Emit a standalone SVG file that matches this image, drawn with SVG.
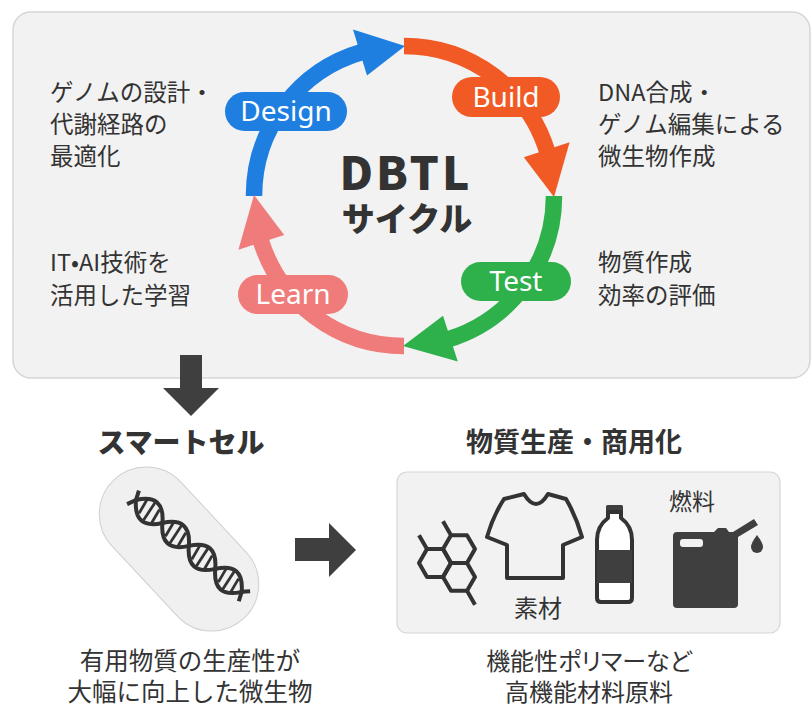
<svg xmlns="http://www.w3.org/2000/svg" width="811" height="708" viewBox="0 0 811 708">
  <defs>
    <style>
      .jp { font-family: "Noto Sans CJK JP", "Noto Sans", sans-serif; fill: #333333; }
      .body { font-size: 23.5px; }
      .head { font-size: 27px; font-weight: bold; }
      .pill-label { font-family: "Noto Sans", "Open Sans", sans-serif; font-size: 28px; fill: #ffffff; text-anchor: middle; }
      .ring { fill: none; stroke-width: 16.5; }
      .icon-line { fill: none; stroke: #333333; stroke-width: 4; stroke-linejoin: round; }
      .dark { fill: #3f3f3f; }
    </style>
  </defs>

  <rect width="811" height="708" fill="#ffffff"/>

  <!-- upper panel holding the cycle -->
  <g id="cycle-panel">
    <rect x="13" y="12" width="797" height="366" rx="18" fill="#f2f2f2" stroke="#d6d6d6" stroke-width="1.5"/>
  </g>

  <!-- ring segments and arrowheads -->
  <g id="connectors">
    <path class="ring" stroke="#1f7fe0" d="M254,196 A150,150 0 0 1 362.7,51.8"/>
    <polygon fill="#1f7fe0" points="405,46 353,29.5 367,75.5"/>

    <path class="ring" stroke="#f15a24" d="M404,46 A150,150 0 0 1 547.4,152.1"/>
    <polygon fill="#f15a24" points="554,197 569.6,142.2 523.8,157.2"/>

    <path class="ring" stroke="#2eb04b" d="M554,196 A150,150 0 0 1 447.9,339.4"/>
    <polygon fill="#2eb04b" points="403,346 457.8,361.6 443,315.8"/>

    <path class="ring" stroke="#f07b7b" d="M404,346 A150,150 0 0 1 260.6,239.9"/>
    <polygon fill="#f07b7b" points="254,195 238.4,249.8 284.2,235"/>

    <!-- arrow from the cycle down to the smart cell -->
    <polygon class="dark" points="180,355 202,355 202,388 219,388 191,416 163,388 180,388"/>
    <!-- arrow from the cell to production -->
    <polygon class="dark" points="295,538 329,538 329,523 356,550 329,577 329,561 295,561"/>
  </g>

  <g id="design">
    <rect x="225" y="92" width="122" height="39" rx="19.5" fill="#1f7fe0"/>
    <text class="pill-label" x="286" y="121">Design</text>
  </g>
  <g id="build">
    <rect x="452" y="77" width="108" height="40" rx="20" fill="#f15a24"/>
    <text class="pill-label" x="506" y="107">Build</text>
  </g>
  <g id="test">
    <rect x="461" y="262" width="110" height="39" rx="19.5" fill="#2eb04b"/>
    <text class="pill-label" x="516" y="291">Test</text>
  </g>
  <g id="learn">
    <rect x="238" y="275" width="110" height="39" rx="19.5" fill="#f07b7b"/>
    <text class="pill-label" x="293" y="304">Learn</text>
  </g>

  <g id="dbtl-title">
    <text class="jp" x="406" y="190" font-size="46" font-weight="900" letter-spacing="3" text-anchor="middle">DBTL</text>
    <text class="jp" x="407" y="231" font-size="33" font-weight="900" text-anchor="middle">サイクル</text>
  </g>

  <g id="design-note">
    <text class="jp body" x="50" y="101">ゲノムの設計・</text>
    <text class="jp body" x="50" y="133">代謝経路の</text>
    <text class="jp body" x="50" y="165">最適化</text>
  </g>
  <g id="learn-note">
    <text class="jp body" x="50" y="271">IT•AI技術を</text>
    <text class="jp body" x="50" y="304">活用した学習</text>
  </g>
  <g id="build-note">
    <text class="jp body" x="598" y="101">DNA合成・</text>
    <text class="jp body" x="598" y="133">ゲノム編集による</text>
    <text class="jp body" x="598" y="165">微生物作成</text>
  </g>
  <g id="test-note">
    <text class="jp body" x="598" y="271">物質作成</text>
    <text class="jp body" x="598" y="304">効率の評価</text>
  </g>

  <!-- smart cell -->
  <g id="smart-cell">
    <text class="jp" x="181" y="453" font-size="28" font-weight="900" text-anchor="middle">スマートセル</text>
    <rect x="84" y="502" width="190" height="94" rx="47" transform="rotate(47 179 549)" fill="#f0f0f0" stroke="#cfcfcf" stroke-width="1"/>
    <g transform="translate(136,500) rotate(41)">
      <path class="icon-line" stroke-width="4.5" d="M-4,-9 L0,0 Q17.5,24 35,0 T70,0 T105,0 T140,0 L144,9"/>
      <path class="icon-line" stroke-width="4.5" d="M-4,9 L0,0 Q17.5,-24 35,0 T70,0 T105,0 T140,0 L146,-6"/>
      <g stroke="#333333" stroke-width="2.8">
        <line x1="8" y1="-8" x2="11" y2="8"/><line x1="16" y1="-11" x2="19" y2="11"/><line x1="24" y1="-8" x2="27" y2="8"/>
        <line x1="43" y1="-8" x2="46" y2="8"/><line x1="51" y1="-11" x2="54" y2="11"/><line x1="59" y1="-8" x2="62" y2="8"/>
        <line x1="78" y1="-8" x2="81" y2="8"/><line x1="86" y1="-11" x2="89" y2="11"/><line x1="94" y1="-8" x2="97" y2="8"/>
        <line x1="113" y1="-8" x2="116" y2="8"/><line x1="121" y1="-11" x2="124" y2="11"/><line x1="129" y1="-8" x2="132" y2="8"/>
      </g>
    </g>
    <text class="jp" x="190" y="670" font-size="24.5" text-anchor="middle">有用物質の生産性が</text>
    <text class="jp" x="190" y="701" font-size="24.5" text-anchor="middle">大幅に向上した微生物</text>
  </g>

  <!-- products -->
  <g id="production">
    <text class="jp head" x="574" y="452" text-anchor="middle">物質生産・商用化</text>
    <rect x="397" y="472" width="383" height="161" rx="10" fill="#f2f2f2" stroke="#d6d6d6" stroke-width="1.2"/>

    <!-- molecule -->
    <g class="icon-line" stroke-width="3.6">
      <polygon points="451,563 443,576.9 427,576.9 419,563 427,549.1 443,549.1"/>
      <polygon points="475,549.1 467,563 451,563 443,549.1 451,535.2 467,535.2"/>
      <polygon points="475,576.9 467,590.8 451,590.8 443,576.9 451,563 467,563"/>
      <line x1="427" y1="549.1" x2="419" y2="535.2"/>
      <line x1="451" y1="535.2" x2="443" y2="521.3"/>
      <line x1="467" y1="590.8" x2="475" y2="604.7"/>
    </g>

    <!-- shirt -->
    <path class="icon-line" stroke-width="4.5" d="M524,494 Q536,514 548,494 L566,499 Q576,516 582,537 L563,545 L563,578 L507,578 L507,545 L487,537 Q493,516 504,499 Z"/>

    <!-- bottle -->
    <rect class="dark" x="606" y="505" width="17" height="8" rx="1.5"/>
    <path d="M608,512 L608,518 Q597,526 597,540 L597,598 Q597,602 601,602 L628,602 Q632,602 632,598 L632,540 Q632,526 621,518 L621,512 Z" fill="#ffffff" stroke="#333333" stroke-width="4" stroke-linejoin="round"/>
    <rect class="dark" x="597" y="550" width="35" height="33"/>

    <!-- fuel can -->
    <path class="dark" d="M677,532 L714,532 L718,528 L726,528 L729,532 L733,532 L754,519 L758,525 L738,537 L738,604 Q738,608 734,608 L677,608 Q673,608 673,604 L673,536 Q673,532 677,532 Z"/>
    <rect x="680" y="539" width="23" height="8" rx="3" fill="#f2f2f2"/>
    <path class="dark" d="M757,535 Q763,543 763,547 A6,6 0 0 1 751,547 Q751,543 757,535 Z"/>

    <text class="jp" x="538" y="617" font-size="24" text-anchor="middle">素材</text>
    <text class="jp" x="692" y="510" font-size="23" text-anchor="middle" fill="#444444">燃料</text>

    <text class="jp" x="589" y="670" font-size="24" text-anchor="middle" style="font-feature-settings: 'palt'">機能性ポリマーなど</text>
    <text class="jp" x="589" y="701" font-size="24" text-anchor="middle">高機能材料原料</text>
  </g>
</svg>
